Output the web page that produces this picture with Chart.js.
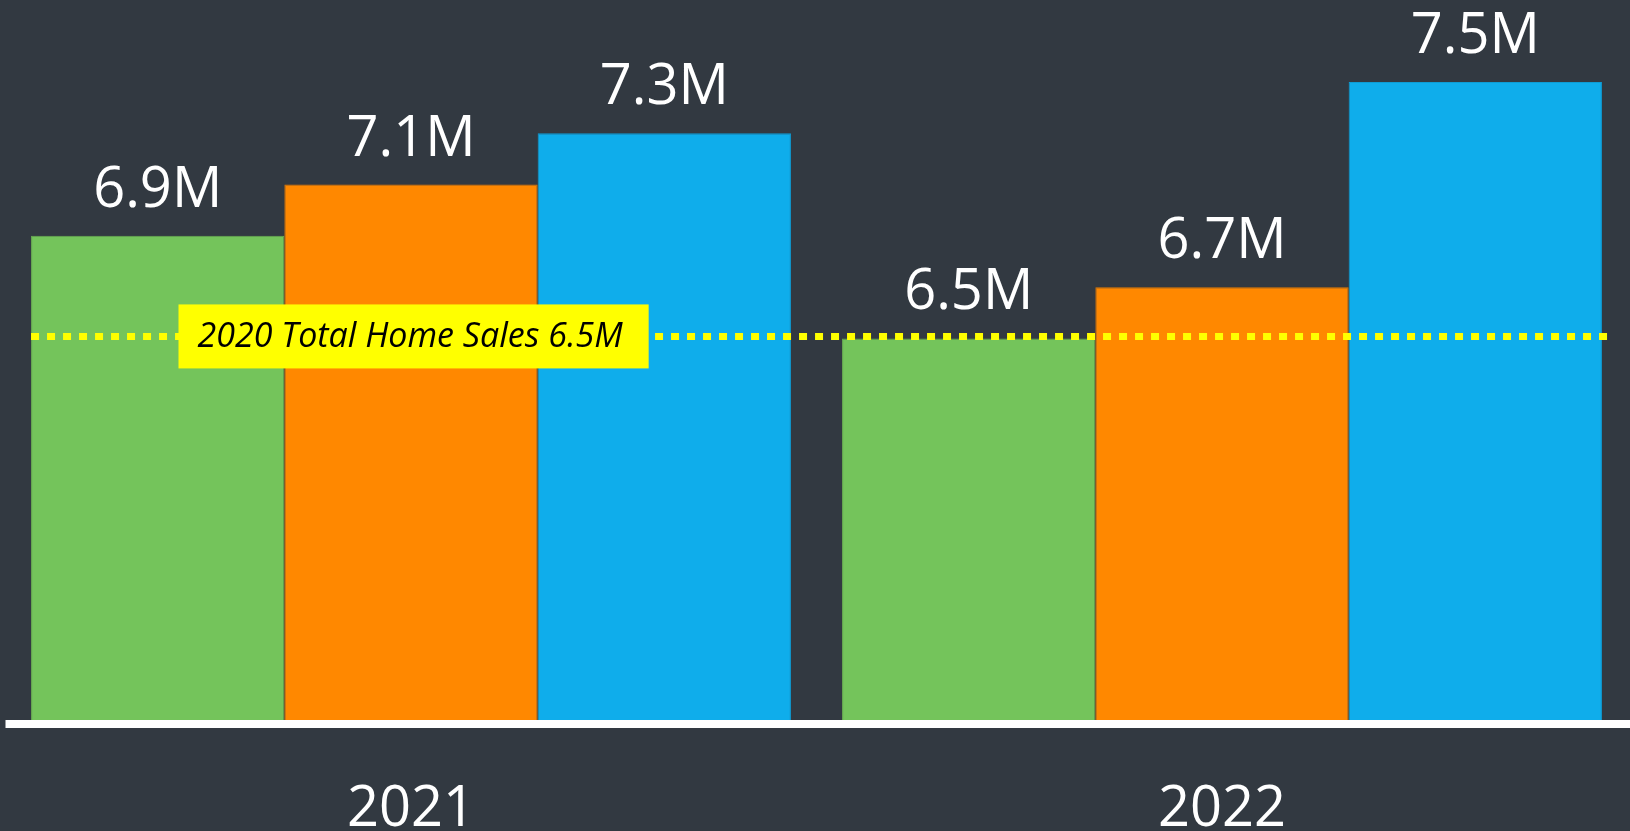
<!DOCTYPE html>
<html>
<head>
<meta charset="utf-8">
<script src="https://cdn.jsdelivr.net/npm/chart.js@4"></script>
<style>
  html, body { margin: 0; padding: 0; background: #323941; overflow: hidden; }
  #wrap { width: 1630px; height: 831px; position: relative; }
</style>
</head>
<body>
<div id="wrap"><canvas id="c"></canvas></div>
<script>
// ---- data ----
const categories = ["2021", "2022"];
const seriesA = [6.9, 6.5];
const seriesB = [7.1, 6.7];
const seriesC = [7.3, 7.5];
const referenceValue = 6.5;
const referenceLabel = "2020 Total Home Sales 6.5M";
const yMin = 5;
const yMax = 7.82;

const colors = ["#74C45B", "#FF8800", "#0FADEB"];
const borders = ["#6AAF52", "#E57A00", "#0E9CD4"];

const valueLabels = {
  id: "valueLabels",
  afterDatasetsDraw(chart) {
    const ctx = chart.ctx;
    ctx.save();
    ctx.fillStyle = "#FFFFFF";
    ctx.font = "56px 'Open Sans'";
    ctx.textAlign = "center";
    ctx.textBaseline = "alphabetic";
    chart.data.datasets.forEach((ds, di) => {
      const meta = chart.getDatasetMeta(di);
      meta.data.forEach((bar, i) => {
        ctx.fillText(ds.data[i] + "M", bar.x, bar.y - 29);
      });
    });
    ctx.restore();
  }
};

const refLine = {
  id: "refLine",
  afterDatasetsDraw(chart) {
    const ctx = chart.ctx;
    const y = chart.scales.y.getPixelForValue(referenceValue) - 2;
    const first = chart.getDatasetMeta(0).data[0];
    const lastMeta = chart.getDatasetMeta(chart.data.datasets.length - 1);
    const last = lastMeta.data[lastMeta.data.length - 1];
    const x0 = first.x - first.width / 2;
    const x1 = last.x + last.width / 2 + 6;
    ctx.save();
    ctx.strokeStyle = "#FFFF00";
    ctx.lineWidth = 7;
    ctx.setLineDash([8, 8]);
    ctx.beginPath();
    ctx.moveTo(x0, y);
    ctx.lineTo(x1, y);
    ctx.stroke();
    ctx.setLineDash([]);
    // label box
    ctx.font = "italic 34px 'Open Sans'";
    const tw = ctx.measureText(referenceLabel).width;
    const bx = chart.chartArea.left + 173;
    const bh = 64;
    const padL = 19, padR = 26;
    ctx.fillStyle = "#FFFF00";
    ctx.fillRect(bx, y - bh / 2, tw + padL + padR, bh);
    ctx.fillStyle = "#000000";
    ctx.textAlign = "left";
    ctx.textBaseline = "middle";
    ctx.fillText(referenceLabel, bx + padL, y + 1);
    ctx.restore();
  }
};

const axisLine = {
  id: "axisLine",
  afterDatasetsDraw(chart) {
    const ctx = chart.ctx;
    const b = chart.chartArea.bottom;
    ctx.save();
    ctx.fillStyle = "#FFFFFF";
    ctx.fillRect(chart.chartArea.left, b - 3, chart.width - chart.chartArea.left, 8);
    ctx.restore();
  }
};

new Chart(document.getElementById("c"), {
  type: "bar",
  data: {
    labels: categories,
    datasets: [
      { label: "A", data: seriesA, backgroundColor: colors[0], borderColor: borders[0], borderWidth: 1 },
      { label: "B", data: seriesB, backgroundColor: colors[1], borderColor: borders[1], borderWidth: 1 },
      { label: "C", data: seriesC, backgroundColor: colors[2], borderColor: borders[2], borderWidth: 1 }
    ]
  },
  options: {
    responsive: true,
    maintainAspectRatio: false,
    animation: false,
    devicePixelRatio: 1,
    layout: { padding: { left: 5.5, right: 2.5, top: 0, bottom: -66 } },
    datasets: { bar: { categoryPercentage: 0.937, barPercentage: 1.0 } },
    plugins: { legend: { display: false }, tooltip: { enabled: false } },
    scales: {
      x: {
        grid: { display: false, drawTicks: false },
        border: { display: false },
        ticks: { color: "#FFFFFF", font: { family: "Open Sans", size: 56, lineHeight: 1.0 }, padding: 59 }
      },
      y: {
        display: false,
        min: yMin,
        max: yMax
      }
    }
  },
  plugins: [valueLabels, refLine, axisLine]
});
</script>
</body>
</html>
